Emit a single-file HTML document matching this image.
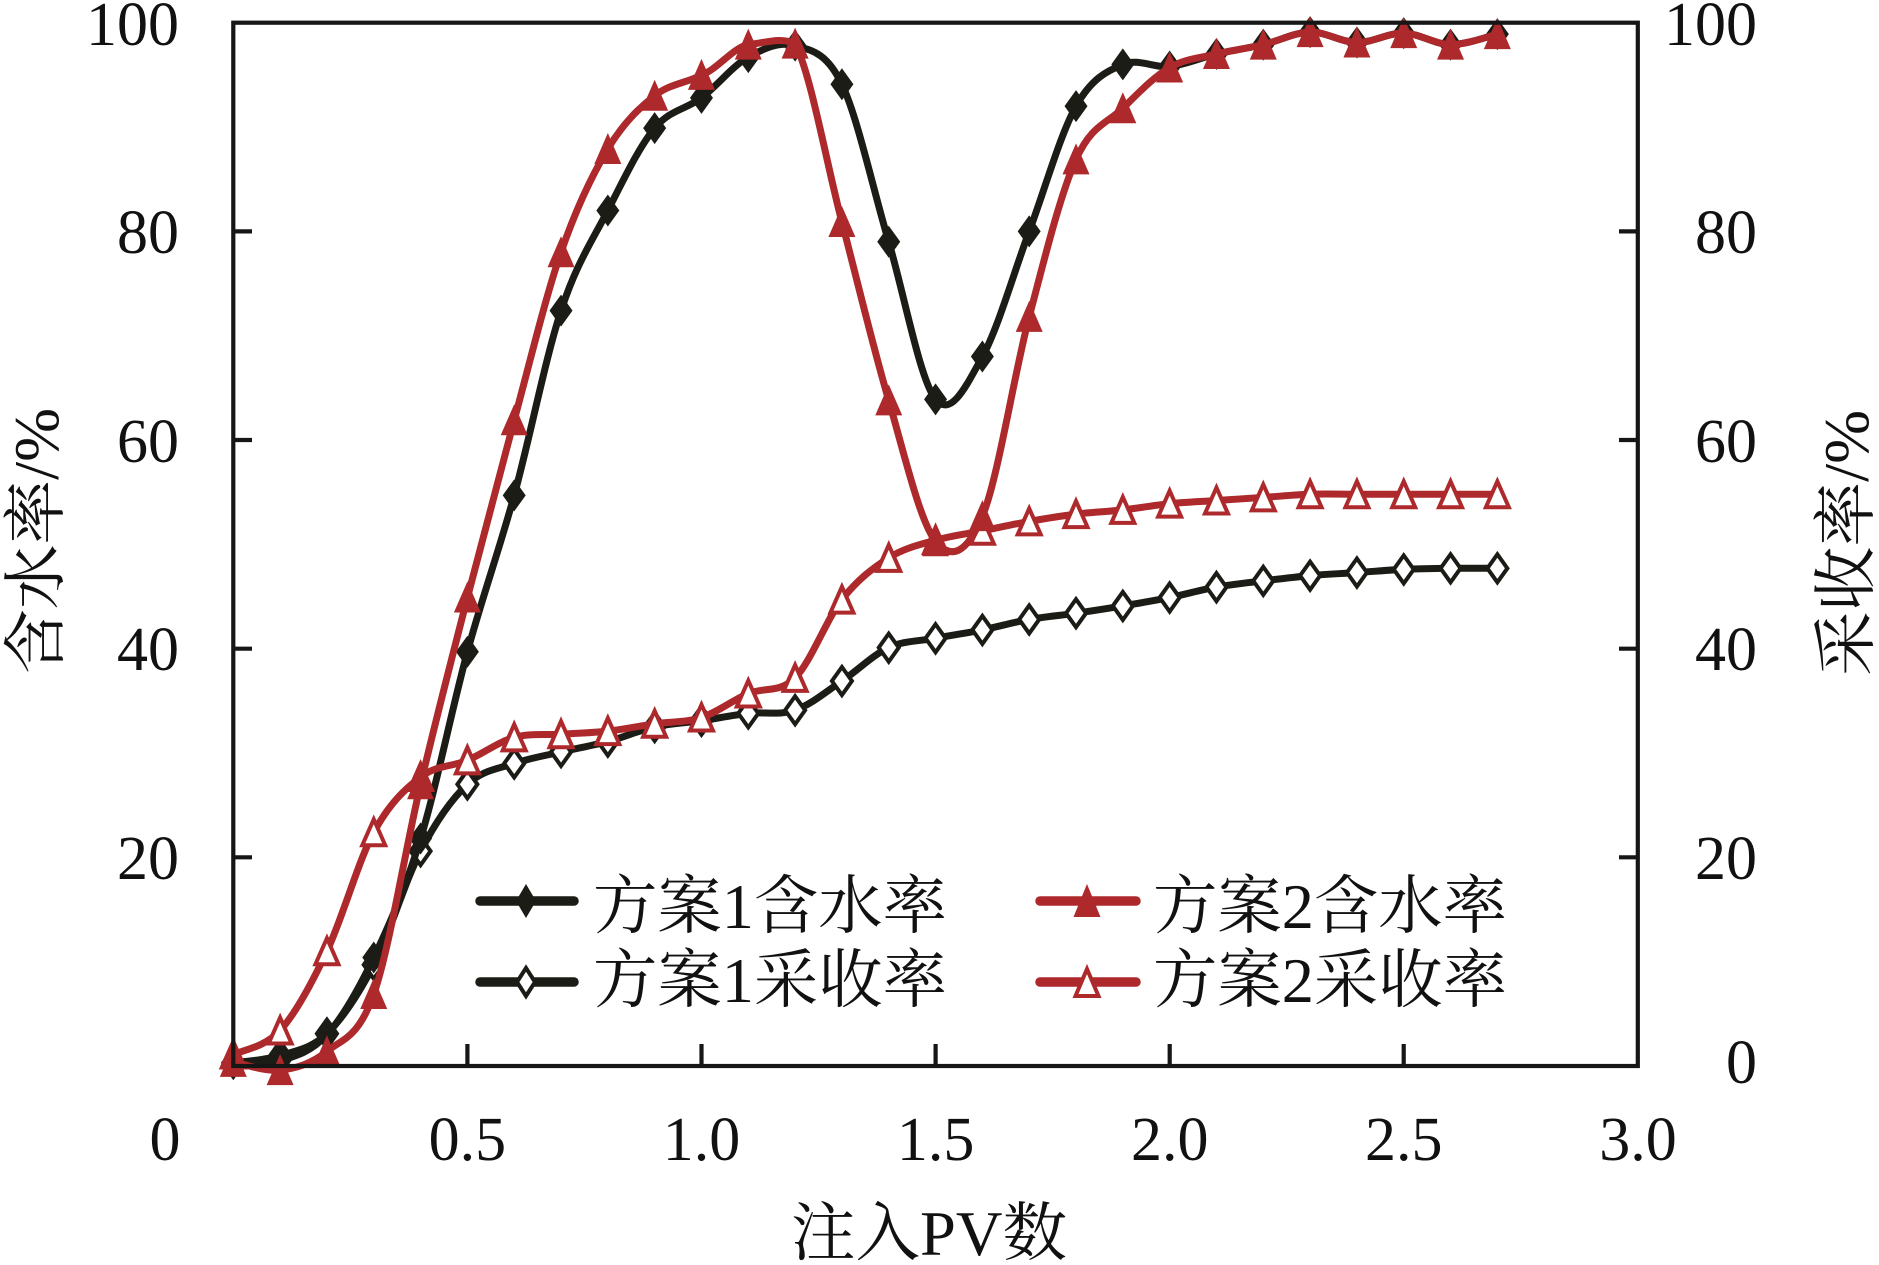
<!DOCTYPE html>
<html>
<head>
<meta charset="utf-8">
<style>
html,body{margin:0;padding:0;background:#fff;}
svg{display:block;}
.tk{font-family:"Liberation Serif","Noto Serif CJK SC",serif;font-size:62px;fill:#111;}
.cj{font-family:"Liberation Serif","Noto Serif CJK SC",serif;font-size:64px;fill:#111;}
</style>
</head>
<body>
<svg id="chart" width="1879" height="1265" viewBox="0 0 1879 1265" xmlns="http://www.w3.org/2000/svg">
<rect x="0" y="0" width="1879" height="1265" fill="#fff"/>
<g id="series"></g>
<!-- frame -->
<rect x="233.3" y="22.7" width="1404.5" height="1043.3" fill="none" stroke="#161616" stroke-width="4.2"/>
<!-- ticks -->
<g stroke="#161616" stroke-width="4.2">
<line x1="233" y1="857.3" x2="252" y2="857.3"/>
<line x1="233" y1="648.7" x2="252" y2="648.7"/>
<line x1="233" y1="440" x2="252" y2="440"/>
<line x1="233" y1="231.4" x2="252" y2="231.4"/>
<line x1="1638" y1="857.3" x2="1619" y2="857.3"/>
<line x1="1638" y1="648.7" x2="1619" y2="648.7"/>
<line x1="1638" y1="440" x2="1619" y2="440"/>
<line x1="1638" y1="231.4" x2="1619" y2="231.4"/>
<line x1="467.4" y1="1066" x2="467.4" y2="1044"/>
<line x1="701.5" y1="1066" x2="701.5" y2="1044"/>
<line x1="935.6" y1="1066" x2="935.6" y2="1044"/>
<line x1="1169.7" y1="1066" x2="1169.7" y2="1044"/>
<line x1="1403.7" y1="1066" x2="1403.7" y2="1044"/>
</g>
<!-- left tick labels -->
<g class="tk" text-anchor="end">
<text x="179" y="45">100</text>
<text x="179" y="253">80</text>
<text x="179" y="462">60</text>
<text x="179" y="670">40</text>
<text x="179" y="879">20</text>
</g>
<!-- right tick labels -->
<g class="tk" text-anchor="end">
<text x="1757" y="45">100</text>
<text x="1757" y="253">80</text>
<text x="1757" y="462">60</text>
<text x="1757" y="670">40</text>
<text x="1757" y="879">20</text>
<text x="1757" y="1083">0</text>
</g>
<!-- x tick labels -->
<g class="tk" text-anchor="middle">
<text x="165" y="1160">0</text>
<text x="467.4" y="1160">0.5</text>
<text x="701.5" y="1160">1.0</text>
<text x="935.6" y="1160">1.5</text>
<text x="1169.7" y="1160">2.0</text>
<text x="1403.7" y="1160">2.5</text>
<text x="1638" y="1160">3.0</text>
</g>
<!-- axis titles -->
<text class="cj" x="929" y="1255" text-anchor="middle" textLength="276" lengthAdjust="spacingAndGlyphs">注入PV数</text>
<text class="cj" transform="translate(58,541) rotate(-90)" x="0" y="0" text-anchor="middle" textLength="266" lengthAdjust="spacingAndGlyphs">含水率/%</text>
<text class="cj" transform="translate(1868,543) rotate(-90)" x="0" y="0" text-anchor="middle" textLength="266" lengthAdjust="spacingAndGlyphs">采收率/%</text>
<!-- legend -->
<g stroke-linecap="round">
<line x1="480" y1="901" x2="574" y2="901" stroke="#1b1c15" stroke-width="9.5"/>
<path d="M526,884 L536,901 L526,918 L516,901 Z" fill="#1b1c15"/>
<line x1="480" y1="982" x2="574" y2="982" stroke="#1b1c15" stroke-width="9.5"/>
<path d="M526,968 L535,982 L526,996 L517,982 Z" fill="#fff" stroke="#1b1c15" stroke-width="4"/>
<line x1="1040" y1="901" x2="1136" y2="901" stroke="#ad292b" stroke-width="9.5"/>
<path d="M1087,884 L1100.5,917 L1073.5,917 Z" fill="#ad292b"/>
<line x1="1040" y1="982" x2="1136" y2="982" stroke="#ad292b" stroke-width="9.5"/>
<path d="M1087,969 L1098.5,996 L1075.5,996 Z" fill="#fff" stroke="#ad292b" stroke-width="4"/>
</g>
<text class="cj" x="593" y="928" textLength="354" lengthAdjust="spacingAndGlyphs">方案1含水率</text>
<text class="cj" x="593" y="1002" textLength="354" lengthAdjust="spacingAndGlyphs">方案1采收率</text>
<text class="cj" x="1153" y="928" textLength="354" lengthAdjust="spacingAndGlyphs">方案2含水率</text>
<text class="cj" x="1153" y="1002" textLength="354" lengthAdjust="spacingAndGlyphs">方案2采收率</text>
</svg>
<script>
(function(){
var NS="http://www.w3.org/2000/svg";
var g=document.getElementById("series");
function X(v){return 233.3+468.17*v;}
function Y(v){return 1066-10.433*v;}
var BWC=[0.3,0.5,3.0,10.4,21.8,39.7,54.7,72.4,82.0,89.9,92.8,96.7,97.8,94.1,79.0,63.9,68.0,80.0,92.0,96.0,95.8,97.0,97.9,99.1,98.1,99.0,97.9,98.9];
var RWC=[0.4,-0.4,1.4,6.9,27.0,44.9,61.9,78.0,87.9,93.0,95.0,97.9,98.0,80.9,63.8,50.3,52.7,71.8,86.9,91.8,95.7,97.0,97.9,99.1,98.1,99.0,97.9,98.9];
var BREC=[0.3,1.0,3.1,9.7,20.6,27.0,29.0,30.1,31.1,32.5,33.1,33.8,34.1,36.9,40.1,41.0,41.8,42.8,43.4,44.1,44.9,45.9,46.5,47.0,47.3,47.6,47.7,47.7];
var RREC=[1.1,3.4,11.0,22.4,27.7,29.3,31.5,31.8,32.1,32.8,33.4,35.7,37.2,44.7,48.7,50.4,51.3,52.2,52.9,53.3,53.9,54.2,54.5,54.8,54.8,54.8,54.8,54.8];
function pts(a){var p=[];for(var i=0;i<a.length;i++){p.push([X(i*0.1),Y(a[i])]);}return p;}
function smooth(p,tens){
  tens=tens||{};
  var d="M"+p[0][0].toFixed(1)+","+p[0][1].toFixed(1);
  for(var i=0;i<p.length-1;i++){
    var f=(tens[i]!==undefined)?tens[i]:1/6;
    var p0=p[i>0?i-1:i],p1=p[i],p2=p[i+1],p3=p[i+2<p.length?i+2:i+1];
    var c1x=p1[0]+(p2[0]-p0[0])/6,c1y=p1[1]+(p2[1]-p0[1])*f;
    var c2x=p2[0]-(p3[0]-p1[0])/6,c2y=p2[1]-(p3[1]-p1[1])*f;
    d+=" C"+c1x.toFixed(1)+","+c1y.toFixed(1)+" "+c2x.toFixed(1)+","+c2y.toFixed(1)+" "+p2[0].toFixed(1)+","+p2[1].toFixed(1);
  }
  return d;
}
function el(tag,attrs){var e=document.createElementNS(NS,tag);for(var k in attrs)e.setAttribute(k,attrs[k]);g.appendChild(e);return e;}
function line(p,col,tens){el("path",{d:smooth(p,tens),fill:"none",stroke:col,"stroke-width":"7","stroke-linecap":"round","stroke-linejoin":"round"});}
function diamondF(x,y,c){el("path",{d:"M"+x+","+(y-16)+" L"+(x+11.5)+","+y+" L"+x+","+(y+16)+" L"+(x-11.5)+","+y+" Z",fill:c});}
function diamondH(x,y,c){el("path",{d:"M"+x+","+(y-14)+" L"+(x+10)+","+y+" L"+x+","+(y+14)+" L"+(x-10)+","+y+" Z",fill:"#fff",stroke:c,"stroke-width":"4"});}
function triF(x,y,c){el("path",{d:"M"+x+","+(y-16)+" L"+(x+13.5)+","+(y+15)+" L"+(x-13.5)+","+(y+15)+" Z",fill:c});}
function triH(x,y,c){el("path",{d:"M"+x+","+(y-13)+" L"+(x+11.5)+","+(y+13)+" L"+(x-11.5)+","+(y+13)+" Z",fill:"#fff",stroke:c,"stroke-width":"4"});}
var K="#1b1c15",R="#ad292b";
var pb=pts(BREC),pbw=pts(BWC),prr=pts(RREC),prw=pts(RWC);
line(pb,K);pb.forEach(function(q){diamondH(q[0],q[1],K);});
line(pbw,K);pbw.forEach(function(q){diamondF(q[0],q[1],K);});
line(prr,R);prr.forEach(function(q){triH(q[0],q[1],R);});
line(prw,R,{10:0.1,11:0.04});prw.forEach(function(q){triF(q[0],q[1],R);});
})();
</script>
</body>
</html>
